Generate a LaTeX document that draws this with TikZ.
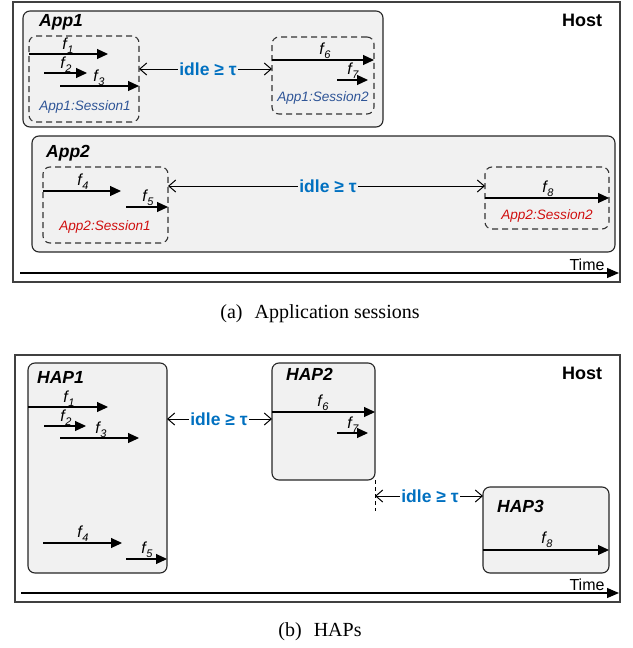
\documentclass[tikz,border=0pt]{standalone}
\usepackage{fontspec}
\setmainfont{Liberation Sans}
\newfontfamily\capfont{Liberation Serif}
\usetikzlibrary{arrows.meta}
\definecolor{boxfill}{HTML}{F1F1F1}
\definecolor{idleblue}{HTML}{0070C0}
\definecolor{sessblue}{HTML}{2F5597}
\definecolor{sessred}{HTML}{D01010}
\definecolor{framegray}{HTML}{404040}
\newcommand\flowname[1]{f\kern0.5pt\raisebox{-4pt}{\fontsize{11}{11}\selectfont\itshape #1}}
\tikzset{
 frame/.style={draw=framegray, line width=1.2pt, inner sep=0pt, outer sep=0pt, anchor=north west},
 appbox/.style={draw=black!85, fill=boxfill, line width=1.1pt, rounded corners=7pt, inner sep=0pt, outer sep=0pt, anchor=north west},
 sessbox/.style={draw=black!80, dash pattern=on 6pt off 4pt, line width=1.1pt, rounded corners=7pt, inner sep=0pt, outer sep=0pt, anchor=north west},
 flow/.style={line width=1.1pt, -{Triangle[length=11pt,width=10pt]}},
 flab/.style={font=\fontsize{16}{16}\selectfont\itshape, inner sep=0pt},
 idlearrow/.style={line width=1pt, {Straight Barb[length=7pt,width=12pt]}-},
 idlelab/.style={font=\fontsize{17.5}{17.5}\selectfont\bfseries, text=idleblue, inner sep=1.5pt},
 title/.style={font=\fontsize{17.5}{17.5}\selectfont\bfseries\itshape, inner sep=0pt, anchor=west},
 host/.style={font=\fontsize{18}{18}\selectfont\bfseries, inner sep=0pt},
 timelab/.style={font=\fontsize{16}{16}\selectfont, inner sep=0pt},
 timearrow/.style={line width=1.2pt, -{Triangle[length=12pt,width=10pt]}},
 sesslab/.style={font=\fontsize{13.6}{13.6}\selectfont\itshape, inner sep=0pt},
 caption/.style={font=\capfont\fontsize{20}{20}\selectfont, inner sep=0pt},
}
\begin{document}
\begin{tikzpicture}[x=1pt,y=-1pt]
\useasboundingbox (0,0) rectangle (632,648);
% ===== Panel (a) =====
\node[frame, minimum width=607pt, minimum height=280pt] (hosta) at (13,2) {};
\node[host] (hostalab) at (582,20) {Host};
\node[appbox, minimum width=360pt, minimum height=116pt] (app1) at (23,11) {};
\node[title] (app1lab) at (39,22) {App1};
\node[sessbox, minimum width=110pt, minimum height=86pt] (s11) at (29,36) {};
\node[sessbox, minimum width=102pt, minimum height=77pt] (s12) at (272,37) {};
% flows
\coordinate (f1a) at (29,54);  \coordinate (f1b) at (108,54);
\coordinate (f2a) at (44,73);  \coordinate (f2b) at (87,73);
\coordinate (f3a) at (60,86);  \coordinate (f3b) at (139,86);
\draw[flow] (f1a) -- (f1b);
\draw[flow] (f2a) -- (f2b);
\draw[flow] (f3a) -- (f3b);
\node[flab] (l1) at (68,46) {\flowname{1}};
\node[flab] (l2) at (66,65) {\flowname{2}};
\node[flab] (l3) at (99,78) {\flowname{3}};
\node[sesslab, text=sessblue] (s11lab) at (85,107) {App1:Session1};
\coordinate (f6a) at (272,60); \coordinate (f6b) at (374,60);
\coordinate (f7a) at (337,80); \coordinate (f7b) at (368,80);
\draw[flow] (f6a) -- (f6b);
\draw[flow] (f7a) -- (f7b);
\node[flab] (l6) at (325,51) {\flowname{6}};
\node[flab] (l7) at (353,71) {\flowname{7}};
\node[sesslab, text=sessblue] (s12lab) at (323,98) {App1:Session2};
\node[idlelab] (idle1) at (208,69) {idle ≥ τ};
\coordinate (i1a) at (139,69); \coordinate (i1b) at (272,69);
\draw[idlearrow] (i1a) -- (idle1.west);
\draw[idlearrow] (i1b) -- (idle1.east);
% App2
\node[appbox, minimum width=583pt, minimum height=116pt] (app2) at (32,136) {};
\node[title] (app2lab) at (46,153) {App2};
\node[sessbox, minimum width=125pt, minimum height=76pt] (s21) at (43,167) {};
\node[sessbox, minimum width=124pt, minimum height=62pt] (s22) at (485,167) {};
\coordinate (f4a) at (43,191);  \coordinate (f4b) at (121,191);
\coordinate (f5a) at (126,207); \coordinate (f5b) at (168,207);
\draw[flow] (f4a) -- (f4b);
\draw[flow] (f5a) -- (f5b);
\node[flab] (l4) at (83,182) {\flowname{4}};
\node[flab] (l5) at (148,198) {\flowname{5}};
\node[sesslab, text=sessred] (s21lab) at (105,227) {App2:Session1};
\coordinate (f8a) at (485,198); \coordinate (f8b) at (609,198);
\draw[flow] (f8a) -- (f8b);
\node[flab] (l8) at (548,189) {\flowname{8}};
\node[sesslab, text=sessred] (s22lab) at (547,216) {App2:Session2};
\node[idlelab] (idle2) at (328,186) {idle ≥ τ};
\coordinate (i2a) at (168,186); \coordinate (i2b) at (485,186);
\draw[idlearrow] (i2a) -- (idle2.west);
\draw[idlearrow] (i2b) -- (idle2.east);
% time
\coordinate (ta1) at (20,273); \coordinate (ta2) at (619,273);
\draw[timearrow] (ta1) -- (ta2);
\node[timelab] (timea) at (587,265) {Time};
\node[caption] (capa) at (320,314) {(a)\hspace{0.6em}Application sessions};
% ===== Panel (b) =====
\node[frame, minimum width=605pt, minimum height=247pt] (hostb) at (15,355) {};
\node[host] (hostblab) at (582,373) {Host};
\node[appbox, minimum width=139pt, minimum height=210pt] (hap1) at (28,363) {};
\node[title] (hap1lab) at (37,377) {HAP1};
\node[appbox, minimum width=103pt, minimum height=117pt] (hap2) at (272,363) {};
\node[title] (hap2lab) at (286,374) {HAP2};
\node[appbox, minimum width=126pt, minimum height=86pt] (hap3) at (483,487) {};
\node[title] (hap3lab) at (497,506) {HAP3};
\coordinate (g1a) at (28,407);  \coordinate (g1b) at (108,407);
\coordinate (g2a) at (44,426);  \coordinate (g2b) at (86,426);
\coordinate (g3a) at (60,438);  \coordinate (g3b) at (139,438);
\coordinate (g4a) at (43,543);  \coordinate (g4b) at (122,543);
\coordinate (g5a) at (126,559); \coordinate (g5b) at (167,559);
\draw[flow] (g1a) -- (g1b);
\draw[flow] (g2a) -- (g2b);
\draw[flow] (g3a) -- (g3b);
\draw[flow] (g4a) -- (g4b);
\draw[flow] (g5a) -- (g5b);
\node[flab] (m1) at (69,399) {\flowname{1}};
\node[flab] (m2) at (66,418) {\flowname{2}};
\node[flab] (m3) at (101,430) {\flowname{3}};
\node[flab] (m4) at (83,534) {\flowname{4}};
\node[flab] (m5) at (147,550) {\flowname{5}};
\coordinate (g6a) at (272,412); \coordinate (g6b) at (375,412);
\coordinate (g7a) at (337,433); \coordinate (g7b) at (368,433);
\draw[flow] (g6a) -- (g6b);
\draw[flow] (g7a) -- (g7b);
\node[flab] (m6) at (323,403) {\flowname{6}};
\node[flab] (m7) at (353,425) {\flowname{7}};
\coordinate (g8a) at (483,550); \coordinate (g8b) at (609,550);
\draw[flow] (g8a) -- (g8b);
\node[flab] (m8) at (547,540) {\flowname{8}};
\node[idlelab] (idle3) at (219,419) {idle ≥ τ};
\coordinate (j1a) at (167,419); \coordinate (j1b) at (272,419);
\draw[idlearrow] (j1a) -- (idle3.west);
\draw[idlearrow] (j1b) -- (idle3.east);
\coordinate (d1) at (375,480); \coordinate (d2) at (375,511);
\draw[line width=0.9pt, dash pattern=on 4pt off 3pt] (d1) -- (d2);
\node[idlelab] (idle4) at (430,496) {idle ≥ τ};
\coordinate (j2a) at (375,496); \coordinate (j2b) at (483,496);
\draw[idlearrow] (j2a) -- (idle4.west);
\draw[idlearrow] (j2b) -- (idle4.east);
\coordinate (tb1) at (21,593); \coordinate (tb2) at (619,593);
\draw[timearrow] (tb1) -- (tb2);
\node[timelab] (timeb) at (587,585) {Time};
\node[caption] (capb) at (320,632) {(b)\hspace{0.6em}HAPs};
\end{tikzpicture}
\end{document}
